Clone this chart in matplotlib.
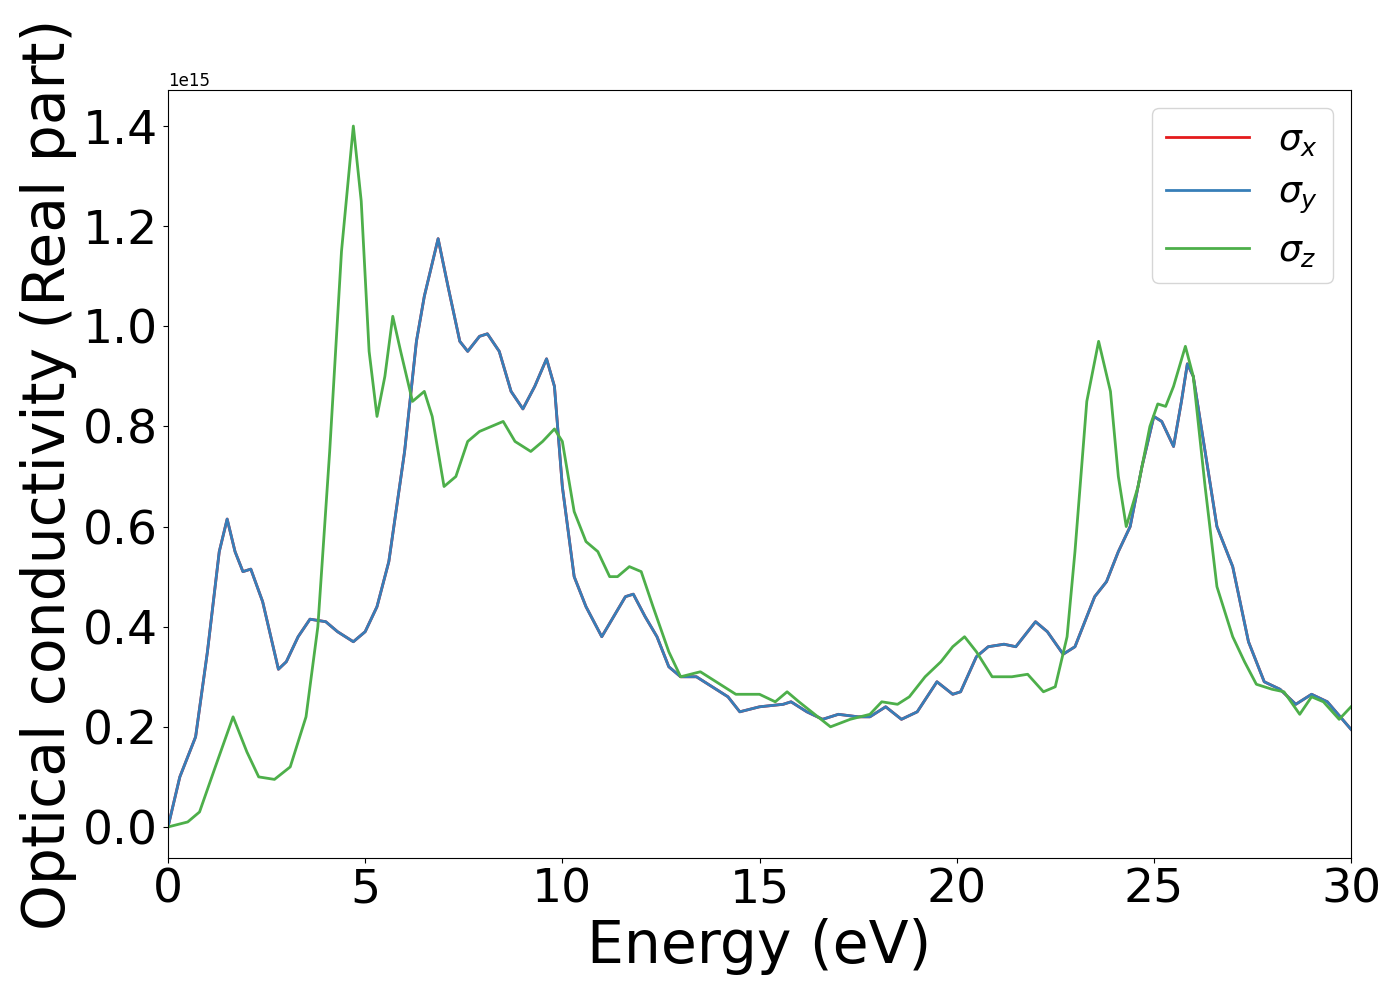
import matplotlib
matplotlib.use("Agg")
import matplotlib.pyplot as plt

exy = [0,0.3,0.7,1.0,1.3,1.5,1.7,1.9,2.1,2.4,2.8,3.0,3.3,3.6,4.0,4.3,4.7,5.0,5.3,5.6,6.0,6.3,6.5,6.85,7.1,7.4,7.6,7.9,8.1,8.4,8.7,9.0,9.3,9.6,9.8,10.0,10.3,10.6,11.0,11.3,11.6,11.8,12.1,12.4,12.7,13.0,13.4,13.8,14.2,14.5,15.0,15.6,15.8,16.2,16.6,17.0,17.5,17.8,18.2,18.6,19.0,19.5,19.9,20.1,20.5,20.8,21.2,21.5,22.0,22.3,22.7,23.0,23.5,23.8,24.1,24.4,24.7,25.0,25.2,25.5,25.7,25.85,26.0,26.3,26.6,27.0,27.4,27.8,28.2,28.6,29.0,29.4,30]
sxy = [0,0.1,0.18,0.35,0.55,0.615,0.55,0.51,0.515,0.45,0.315,0.33,0.38,0.415,0.41,0.39,0.37,0.39,0.44,0.53,0.75,0.97,1.06,1.175,1.08,0.97,0.95,0.98,0.985,0.95,0.87,0.835,0.88,0.935,0.88,0.68,0.5,0.44,0.38,0.42,0.46,0.465,0.42,0.38,0.32,0.3,0.3,0.28,0.26,0.23,0.24,0.245,0.25,0.23,0.215,0.225,0.22,0.22,0.24,0.215,0.23,0.29,0.265,0.27,0.34,0.36,0.365,0.36,0.41,0.39,0.345,0.36,0.46,0.49,0.55,0.6,0.72,0.82,0.81,0.76,0.85,0.925,0.9,0.75,0.6,0.52,0.37,0.29,0.275,0.245,0.265,0.25,0.195]
ez = [0,0.5,0.8,1.2,1.65,2.0,2.3,2.7,3.1,3.5,3.8,4.1,4.4,4.7,4.9,5.1,5.3,5.5,5.7,5.9,6.2,6.5,6.7,7.0,7.3,7.6,7.9,8.2,8.5,8.8,9.2,9.5,9.8,10.0,10.3,10.6,10.9,11.2,11.4,11.7,12.0,12.3,12.7,13.0,13.5,14.0,14.4,15.0,15.4,15.7,16.0,16.4,16.8,17.3,17.8,18.1,18.5,18.8,19.2,19.6,19.9,20.2,20.5,20.9,21.4,21.8,22.2,22.5,22.8,23.0,23.3,23.6,23.9,24.1,24.3,24.6,24.9,25.1,25.3,25.5,25.8,26.0,26.3,26.6,27.0,27.3,27.6,28.0,28.3,28.7,29.0,29.3,29.7,30]
sz = [0,0.01,0.03,0.12,0.22,0.15,0.1,0.095,0.12,0.22,0.4,0.75,1.15,1.4,1.25,0.95,0.82,0.9,1.02,0.95,0.85,0.87,0.82,0.68,0.7,0.77,0.79,0.8,0.81,0.77,0.75,0.77,0.795,0.77,0.63,0.57,0.55,0.5,0.5,0.52,0.51,0.44,0.35,0.3,0.31,0.285,0.265,0.265,0.25,0.27,0.25,0.225,0.2,0.215,0.225,0.25,0.245,0.26,0.3,0.33,0.36,0.38,0.35,0.3,0.3,0.305,0.27,0.28,0.38,0.55,0.85,0.97,0.87,0.7,0.6,0.68,0.8,0.845,0.84,0.88,0.96,0.9,0.68,0.48,0.38,0.33,0.285,0.275,0.27,0.225,0.26,0.25,0.215,0.24]
scale = 1e15

fig = plt.figure(figsize=(14, 10), dpi=100)
ax = fig.add_axes([0.12, 0.142, 0.845, 0.768])
ax.plot(exy, [v*scale for v in sxy], color='#e41a1c', lw=2, label=r'$\sigma_x$')
ax.plot(exy, [v*scale for v in sxy], color='#377eb8', lw=2, label=r'$\sigma_y$')
ax.plot(ez, [v*scale for v in sz], color='#4daf4a', lw=2, label=r'$\sigma_z$')
ax.set_xlim(0, 30)
ax.set_ylim(-0.062e15, 1.472e15)
ax.tick_params(labelsize=34)
ax.yaxis.get_offset_text().set_fontsize(12)
ax.set_xlabel('Energy (eV)', fontsize=42)
ax.set_ylabel('Optical conductivity (Real part)', fontsize=42, labelpad=4)
ax.legend(fontsize=26, loc='upper right', handlelength=2.3)
fig.savefig('out.png', dpi=100)
